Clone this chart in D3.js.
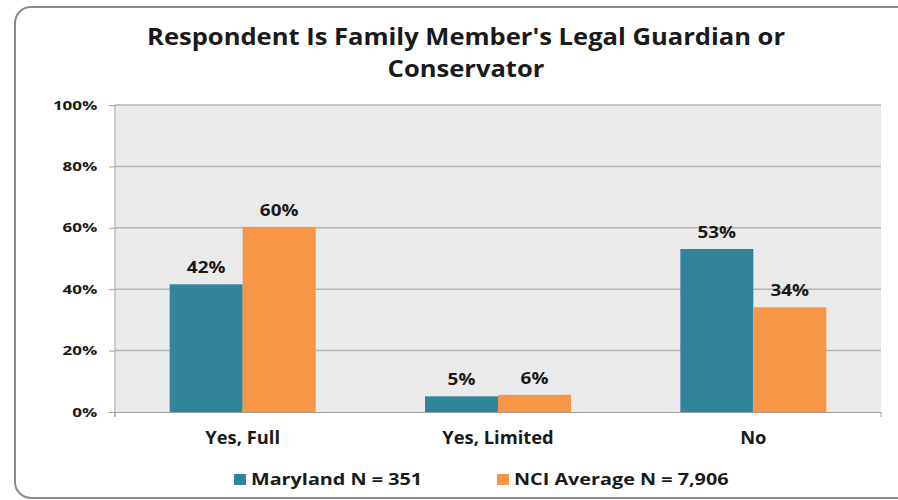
<!DOCTYPE html>
<html>
<head>
<meta charset="utf-8">
<script src="https://cdn.jsdelivr.net/npm/d3@7"></script>
<style>
  body { margin: 0; background: #fff; }
  text { font-family: "Open Sans", sans-serif; font-weight: bold; fill: #1a1a1a; }
</style>
</head>
<body>
<script>
var categories = ["Yes, Full", "Yes, Limited", "No"];
var seriesNames = ["Maryland N = 351", "NCI Average N = 7,906"];
var maryland = [41.6, 5.1, 53.1];
var nci = [60.3, 5.6, 34.1];
var yTicks = [0, 20, 40, 60, 80, 100];
var colors = ["#31849B", "#F79646"];

var svg = d3.select("body").append("svg")
  .attr("width", 898)
  .attr("height", 500);

// outer frame
svg.append("rect")
  .attr("x", 15).attr("y", 7)
  .attr("width", 900).attr("height", 491)
  .attr("rx", 16)
  .attr("fill", "none")
  .attr("stroke", "#8a8a8a")
  .attr("stroke-width", 2);

var margin = { top: 105, left: 115 },
  width = 766,
  height = 307,
  g = svg.append("g").attr("transform", "translate(" + margin.left + "," + margin.top + ")");

var x = d3.scaleBand().domain(categories).range([0, width]);
var x1 = d3.scaleBand().domain([0, 1]).range([0, 146]);
var y = d3.scaleLinear().domain([0, 100]).range([height, 0]);

g.append("rect")
  .attr("width", width).attr("height", height)
  .attr("fill", "#EAEAEA");

g.selectAll(".grid")
  .data(yTicks.slice(1))
  .enter().append("line")
  .attr("x1", 0).attr("x2", width)
  .attr("y1", function(d) { return y(d); })
  .attr("y2", function(d) { return y(d); })
  .attr("stroke", "#b4b4b4")
  .attr("stroke-width", 1.5);

// the labels in the picture are wider than Open Sans, so they get stretched a bit
var yAxis = g.append("g")
  .call(d3.axisLeft(y).tickValues(yTicks).tickSize(6).tickPadding(7)
    .tickFormat(function(d) { return d + "%"; }));
yAxis.select(".domain").attr("stroke", "#a0a0a0").attr("d", "M0,0V" + (height + 5));
yAxis.selectAll(".tick line").attr("stroke", "#a0a0a0");
yAxis.selectAll("text")
  .style("font-size", "12.5px")
  .attr("fill", "#1a1a1a")
  .attr("transform", "scale(1.36,1)");

var xAxis = g.append("g")
  .attr("transform", "translate(0," + height + ")")
  .call(d3.axisBottom(x).tickSize(0).tickPadding(20));
xAxis.select(".domain").attr("stroke", "#a0a0a0");
xAxis.selectAll("text")
  .style("font-size", "17px")
  .attr("fill", "#1a1a1a")
  .attr("transform", "scale(1.08,1)");
xAxis.selectAll(".sep")
  .data([0, width])
  .enter().append("line")
  .attr("x1", function(d) { return d; }).attr("x2", function(d) { return d; })
  .attr("y1", 0).attr("y2", 5)
  .attr("stroke", "#a0a0a0");

var rows = categories.map(function(c, i) {
  return { cat: c, vals: [maryland[i], nci[i]] };
});

var groups = g.selectAll(".grp")
  .data(rows)
  .enter().append("g")
  .attr("transform", function(d) { return "translate(" + (x(d.cat) + x.bandwidth() / 2 - 73) + ",0)"; });

groups.selectAll("rect")
  .data(function(d) { return d.vals; })
  .enter().append("rect")
  .attr("x", function(d, i) { return x1(i); })
  .attr("width", x1.bandwidth())
  .attr("y", function(d) { return y(d); })
  .attr("height", function(d) { return height - y(d); })
  .attr("fill", function(d, i) { return colors[i]; });

groups.selectAll(".lbl")
  .data(function(d) { return d.vals; })
  .enter().append("text")
  .attr("transform", function(d, i) {
    return "translate(" + (x1(i) + x1.bandwidth() / 2) + "," + (y(d) - 11) + ") scale(1.22,1)";
  })
  .attr("text-anchor", "middle")
  .style("font-size", "15.5px")
  .text(function(d) { return Math.round(d) + "%"; });

// title
var title = svg.append("text")
  .attr("transform", "translate(466,0) scale(1.065,1)")
  .attr("text-anchor", "middle")
  .style("font-size", "24px");
title.append("tspan").attr("x", 0).attr("y", 45).text("Respondent Is Family Member's Legal Guardian or");
title.append("tspan").attr("x", 0).attr("y", 77).text("Conservator");

// legend
var legendX = [234, 497];
var legend = svg.selectAll(".legend")
  .data(seriesNames)
  .enter().append("g")
  .attr("transform", function(d, i) { return "translate(" + legendX[i] + ",474)"; });
legend.append("rect")
  .attr("width", 12).attr("height", 11)
  .attr("fill", function(d, i) { return colors[i]; });
legend.append("text")
  .attr("transform", "translate(17,11) scale(1.2,1)")
  .style("font-size", "16.5px")
  .text(function(d) { return d; });
</script>
</body>
</html>
